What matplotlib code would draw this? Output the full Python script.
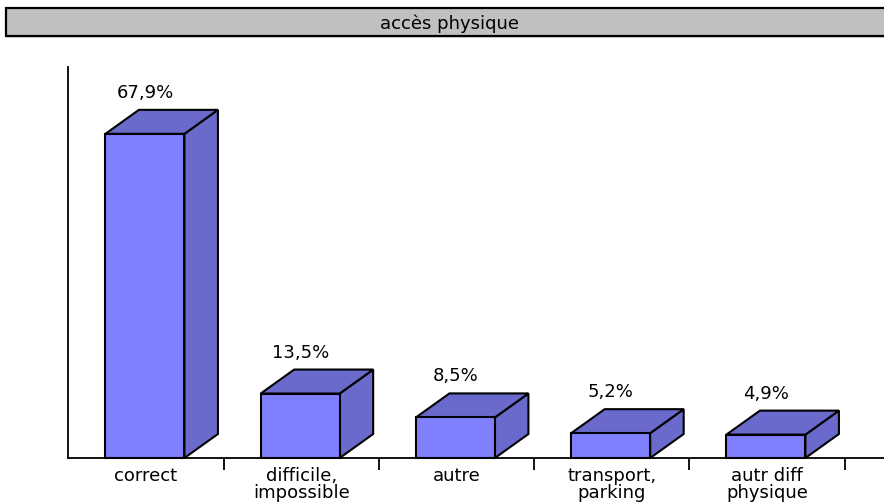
import matplotlib
matplotlib.use("Agg")
import matplotlib.pyplot as plt
from matplotlib.patches import Polygon, Rectangle

categories = ["correct", "difficile,\nimpossible", "autre", "transport,\nparking", "autr diff\nphysique"]
values = [67.9, 13.5, 8.5, 5.2, 4.9]
value_labels = ["67,9%", "13,5%", "8,5%", "5,2%", "4,9%"]
title = "accès physique"

FRONT = "#8080FF"
SHADE = "#6A6ACC"
FONT = "DejaVu Sans"
FS = 13

W, H, DPI = 884, 504, 100
fig = plt.figure(figsize=(W / DPI, H / DPI), dpi=DPI)

# plot area (pixel geometry converted to figure fractions)
ax_left, ax_right, ax_top, ax_bottom = 68.3, 884, 67, 458
ax = fig.add_axes([ax_left / W, (H - ax_bottom) / H,
                   (ax_right - ax_left) / W, (ax_bottom - ax_top) / H])

n = len(categories)
px_per_cat = 155.25
xmin = -0.5
xmax = xmin + (ax_right - ax_left) / px_per_cat
ymax = 81.9
ax.set_xlim(xmin, xmax)
ax.set_ylim(0, ymax)
px_per_unit = (ax_bottom - ax_top) / ymax

# 3D box depth
dx = 33.5 / px_per_cat
dy = 24 / px_per_unit
lw = 1.5

for i, v in enumerate(values):
    x0 = i - 40.5 / px_per_cat
    x1 = i + 38.5 / px_per_cat
    side = Polygon([(x1, 0), (x1 + dx, dy), (x1 + dx, v + dy), (x1, v)],
                   closed=True, facecolor=SHADE, edgecolor="black", lw=lw,
                   joinstyle="miter", zorder=3, clip_on=False)
    top = Polygon([(x0, v), (x1, v), (x1 + dx, v + dy), (x0 + dx, v + dy)],
                  closed=True, facecolor=SHADE, edgecolor="black", lw=lw,
                  joinstyle="miter", zorder=3, clip_on=False)
    front = Rectangle((x0, 0), x1 - x0, v, facecolor=FRONT, edgecolor="black",
                      lw=lw, joinstyle="miter", zorder=4, clip_on=False)
    for p in (side, top, front):
        ax.add_patch(p)
    ax.annotate(value_labels[i], xy=((x0 + x1) / 2, v), xytext=(0, 36),
                textcoords="offset pixels", ha="center", va="baseline",
                fontsize=FS, family=FONT, color="black", zorder=5)

# axes styling
for s in ("top", "right"):
    ax.spines[s].set_visible(False)
ax.spines["left"].set_linewidth(1.3)
ax.spines["bottom"].set_linewidth(1.3)
ax.set_yticks([])

# tick marks at category boundaries, labels at centres
ax.set_xticks([i + 0.5 for i in range(n)])
ax.set_xticklabels([])
ax.tick_params(axis="x", which="major", direction="out", length=8.6, width=1.3)
ax.set_xticks(list(range(n)), minor=True)
ax.set_xticklabels(categories, minor=True, fontsize=FS, family=FONT,
                   linespacing=0.92)
ax.tick_params(axis="x", which="minor", length=0, pad=6.5)

# title banner
fig.patches.append(Rectangle((6 / W, (H - 38) / H), 1.0, 2 / H,
                             transform=fig.transFigure, facecolor="#D8D8D8",
                             edgecolor="none", zorder=0))
fig.patches.append(Rectangle((6 / W, (H - 36) / H), 1.0, 28 / H,
                             transform=fig.transFigure, facecolor="#C0C0C0",
                             edgecolor="black", lw=1.6, zorder=1))
fig.text(450 / W, (H - 29) / H, title, ha="center", va="baseline",
         fontsize=FS, family=FONT, color="black")

fig.savefig("out.png", dpi=DPI)
